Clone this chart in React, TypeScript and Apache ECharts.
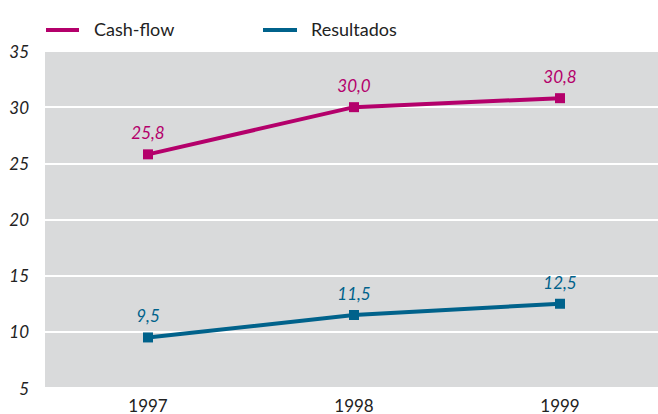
import React, { useEffect, useRef } from "react";
import * as echarts from "echarts";

const years = ["1997", "1998", "1999"];
const cashFlow = [25.8, 30.0, 30.8];
const resultados = [9.5, 11.5, 12.5];
const seriesNames = ["Cash-flow", "Resultados"];

const MAGENTA = "#B4006B";
const BLUE = "#00628B";
const FONT = "Lato, 'Open Sans', sans-serif";

export default function App() {
  const ref = useRef<HTMLDivElement>(null);
  useEffect(() => {
    if (!ref.current) return;
    const chart = echarts.init(ref.current, undefined, { renderer: "svg" });
    const fmt = (p: any) => String(Number(p.value).toFixed(1)).replace(".", ",");
    chart.setOption({
      animation: false,
      backgroundColor: "#ffffff",
      grid: {
        left: 45,
        top: 51,
        right: 1,
        height: 337,
        show: true,
        backgroundColor: "#D9DADB",
        borderWidth: 0,
        outerBoundsMode: "none",
      },
      graphic: [
        { type: "rect", shape: { x: 46, y: 28, width: 33, height: 4 }, style: { fill: MAGENTA } },
        {
          type: "text",
          x: 94,
          y: 29,
          style: { text: seriesNames[0], fill: "#222", font: `18px ${FONT}`, textVerticalAlign: "middle" },
        },
        { type: "rect", shape: { x: 263, y: 28, width: 34, height: 4 }, style: { fill: BLUE } },
        {
          type: "text",
          x: 311,
          y: 29,
          style: { text: seriesNames[1], fill: "#222", font: `18px ${FONT}`, textVerticalAlign: "middle" },
        },
      ],
      xAxis: {
        type: "category",
        data: years,
        boundaryGap: true,
        axisLine: { show: false },
        axisTick: { show: false },
        axisLabel: { fontFamily: FONT, fontSize: 17, color: "#222", margin: 9 },
      },
      yAxis: {
        type: "value",
        min: 5,
        max: 35,
        interval: 5,
        axisLine: { show: false },
        axisTick: { show: false },
        splitLine: { lineStyle: { color: "#ffffff", width: 2 } },
        axisLabel: {
          fontFamily: FONT,
          fontSize: 17,
          fontStyle: "italic",
          color: "#222",
          margin: 16,
        },
      },
      series: [
        {
          name: seriesNames[0],
          type: "line",
          data: cashFlow,
          color: MAGENTA,
          symbol: "rect",
          symbolSize: 10,
          lineStyle: { width: 4, color: MAGENTA },
          itemStyle: { color: MAGENTA },
          label: {
            show: true,
            position: "top",
            distance: 8,
            formatter: fmt,
            fontFamily: FONT,
            fontSize: 17,
            fontStyle: "italic",
            color: MAGENTA,
          },
        },
        {
          name: seriesNames[1],
          type: "line",
          data: resultados,
          color: BLUE,
          symbol: "rect",
          symbolSize: 10,
          lineStyle: { width: 4, color: BLUE },
          itemStyle: { color: BLUE },
          label: {
            show: true,
            position: "top",
            distance: 8,
            formatter: fmt,
            fontFamily: FONT,
            fontSize: 17,
            fontStyle: "italic",
            color: BLUE,
          },
        },
      ],
    });
    return () => chart.dispose();
  }, []);
  return (
    <div style={{ position: "absolute", left: 0, top: 0, width: 658, height: 414, overflow: "hidden" }}>
      <div ref={ref} style={{ width: 664, height: 414 }} />
    </div>
  );
}
